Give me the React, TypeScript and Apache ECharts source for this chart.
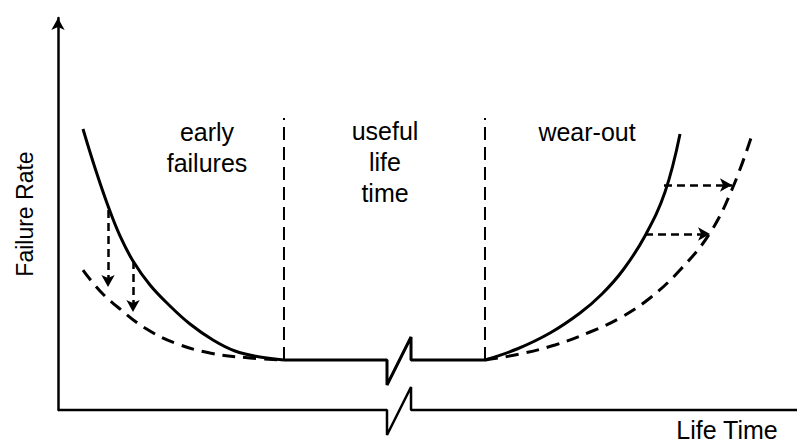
import React, { useEffect, useRef } from "react";
import * as echarts from "echarts";

// Units: life time 0..100 (x), failure rate 0..100 (y)
const xAxisLine: [number, number][] = [
  [0, 0], [44.52, 0], [44.52, -6.38], [47.77, 5.87], [47.77, 0], [100, 0],
];
const leftSolid: [number, number][] = [
  [3.38, 71.68], [5.01, 61.73], [6.77, 52.04], [8.39, 44.39], [10.15, 38.01],
  [12.45, 31.89], [15.16, 26.53], [17.86, 21.94], [20.97, 17.86], [23.95, 15.05],
  [27.33, 13.52], [30.58, 12.76],
];
const usefulFlat: [number, number][] = [
  [30.58, 12.76], [44.52, 12.76], [44.52, 6.38], [47.77, 18.62], [47.77, 12.76], [57.78, 12.76],
];
const rightSolid: [number, number][] = [
  [57.78, 12.76], [62.11, 15.56], [66.58, 19.64], [70.64, 24.74], [73.61, 29.59],
  [76.46, 35.71], [79.43, 44.39], [82.14, 55.61], [84.17, 70.41],
];
const leftDashed: [number, number][] = [
  [3.38, 35.71], [5.68, 30.36], [8.39, 25.77], [11.77, 20.92], [15.83, 17.09],
  [20.57, 14.54], [25.98, 13.27], [30.58, 12.76],
];
const rightDashed: [number, number][] = [
  [57.78, 12.76], [62.52, 14.29], [67.25, 16.58], [71.99, 19.9], [76.05, 23.47],
  [80.11, 28.57], [84.17, 35.71], [88.23, 45.15], [91.34, 56.89], [93.91, 70.15],
];
const boundaryX: number[] = [30.58, 57.78];
const boundaryTop = 74.49;
const flatLevel = 12.76;
// [x1, y1, x2, y2]
const shiftArrows: [number, number, number, number][] = [
  [6.77, 51.0, 6.77, 31.38],
  [10.15, 38.0, 10.15, 25.0],
  [82.0, 57.4, 91.2, 57.4],
  [79.43, 44.9, 88.23, 44.9],
];
const regionLabels = ["early\nfailures", "useful\nlife\ntime", "wear-out"];
const xName = "Life Time";
const yName = "Failure Rate";

const FONT = "Arial, 'Liberation Sans', sans-serif";

export default function App() {
  const ref = useRef<HTMLDivElement>(null);
  useEffect(() => {
    document.body.style.margin = "0";
    const chart = echarts.init(ref.current!, null, { renderer: "svg" });
    const solid = { color: "#000", width: 3 };
    const dashed = { color: "#000", width: 3, type: [13, 8] as any };
    const curve = { type: "line", symbol: "none", smooth: 0.4, silent: true };
    chart.setOption({
      animation: false,
      backgroundColor: "#fff",
      grid: { left: 58, right: 0, top: 18, bottom: 33 },
      xAxis: { type: "value", min: 0, max: 100, show: false },
      yAxis: {
        type: "value",
        min: 0,
        max: 100,
        axisLine: {
          show: true,
          onZero: false,
          symbol: ["none", "arrow"],
          symbolSize: [10, 12],
          lineStyle: { color: "#000", width: 2.5 },
        },
        axisTick: { show: false },
        axisLabel: { show: false },
        splitLine: { show: false },
        name: yName,
        nameLocation: "middle",
        nameRotate: 90,
        nameGap: 22,
        nameTextStyle: { color: "#000", fontSize: 23, fontFamily: FONT },
      },
      series: [
        {
          type: "line", data: xAxisLine, symbol: "none", clip: false, silent: true,
          lineStyle: { color: "#000", width: 2.5 },
        },
        {
          ...curve, data: leftSolid, lineStyle: solid,
          markLine: {
            silent: true,
            symbol: ["none", "arrow"],
            symbolSize: [10, 12],
            label: { show: false },
            lineStyle: { color: "#000", width: 2.5, type: [8, 5] },
            data: shiftArrows.map((a) => [
              { coord: [a[0], a[1]] },
              { coord: [a[2], a[3]] },
            ]),
          },
        },
        {
          type: "line", data: usefulFlat, symbol: "none", silent: true,
          lineStyle: { color: "#000", width: 3 },
        },
        { ...curve, data: rightSolid, lineStyle: solid },
        { ...curve, data: leftDashed, lineStyle: dashed },
        { ...curve, data: rightDashed, lineStyle: dashed },
        ...boundaryX.map((bx) => ({
          type: "line",
          data: [[bx, flatLevel], [bx, boundaryTop]],
          symbol: "none",
          silent: true,
          lineStyle: { color: "#000", width: 2, type: [13, 7] },
        })),
      ],
      graphic: [
        {
          type: "text", x: 207, y: 147,
          style: {
            text: regionLabels[0], fill: "#000", font: `25px ${FONT}`,
            textAlign: "center", textVerticalAlign: "middle", lineHeight: 31,
          },
        },
        {
          type: "text", x: 385, y: 162,
          style: {
            text: regionLabels[1], fill: "#000", font: `25px ${FONT}`,
            textAlign: "center", textVerticalAlign: "middle", lineHeight: 31,
          },
        },
        {
          type: "text", x: 587, y: 132,
          style: {
            text: regionLabels[2], fill: "#000", font: `25px ${FONT}`,
            textAlign: "center", textVerticalAlign: "middle",
          },
        },
        {
          type: "text", x: 727, y: 430,
          style: {
            text: xName, fill: "#000", font: `25px ${FONT}`,
            textAlign: "center", textVerticalAlign: "middle",
          },
        },
      ],
    });
    return () => chart.dispose();
  }, []);
  return (
    <div
      ref={ref}
      style={{ position: "absolute", left: 0, top: 0, width: 797, height: 443 }}
    />
  );
}
